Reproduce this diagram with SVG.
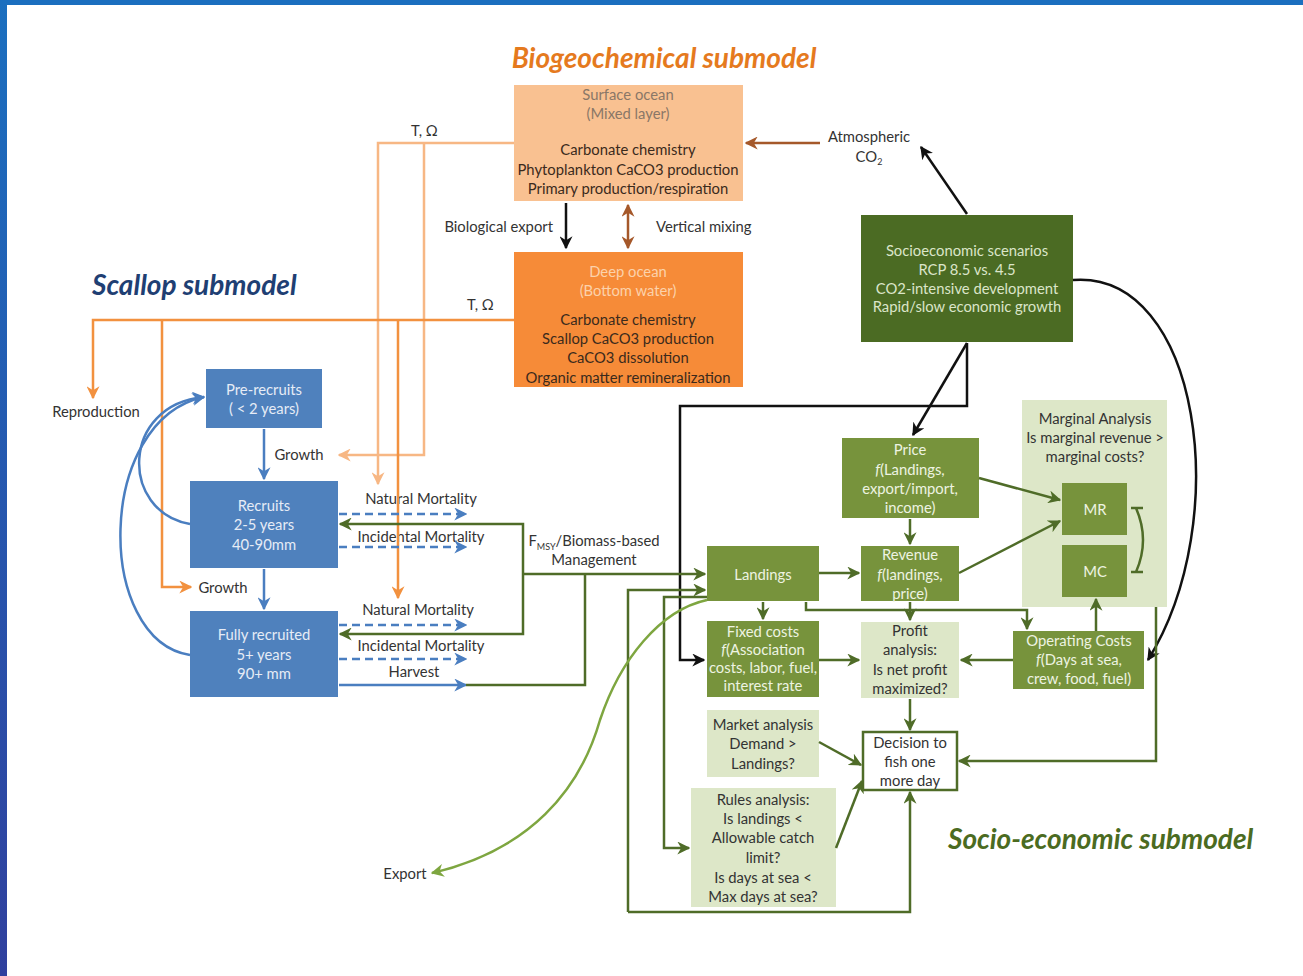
<svg xmlns="http://www.w3.org/2000/svg" width="1303" height="976" viewBox="0 0 1303 976">
<style>
text{font-family:Lato,"Liberation Sans",sans-serif;font-size:14.8px;}
.t{text-anchor:middle;}
.dk{fill:#333;}
.lt{fill:#e6ecf6;}
.lg{fill:#eef3e2;}
.brn{fill:#3b2a1c;}
.title{font-weight:bold;font-style:italic;font-size:28px;}
.c{fill:none;stroke-width:2.5;}
.blk{stroke:#111;}
.bro{stroke:#a5582a;}
.blu{stroke:#4a7ec0;}
.lor{stroke:#f7b784;}
.org{stroke:#f2913f;}
.grn{stroke:#4f6c28;}
.lgr{stroke:#7ea640;}
.dash{stroke-dasharray:8,5;}
</style>
<defs>
<linearGradient id="lb" x1="0" y1="0" x2="0" y2="1"><stop offset="0" stop-color="#1b6fbf"/><stop offset="1" stop-color="#30409e"/></linearGradient>
<marker id="aBlk" viewBox="0 0 10 10" refX="9" refY="5" markerWidth="13" markerHeight="13" markerUnits="userSpaceOnUse" orient="auto"><path d="M0,0 L10,5 L0,10 L3,5z" fill="#111"/></marker>
<marker id="aBro" viewBox="0 0 10 10" refX="9" refY="5" markerWidth="13" markerHeight="13" markerUnits="userSpaceOnUse" orient="auto-start-reverse"><path d="M0,0 L10,5 L0,10 L3,5z" fill="#a5582a"/></marker>
<marker id="aBlu" viewBox="0 0 10 10" refX="9" refY="5" markerWidth="13" markerHeight="13" markerUnits="userSpaceOnUse" orient="auto"><path d="M0,0 L10,5 L0,10 L3,5z" fill="#4a7ec0"/></marker>
<marker id="aLor" viewBox="0 0 10 10" refX="9" refY="5" markerWidth="13" markerHeight="13" markerUnits="userSpaceOnUse" orient="auto"><path d="M0,0 L10,5 L0,10 L3,5z" fill="#f7b784"/></marker>
<marker id="aOrg" viewBox="0 0 10 10" refX="9" refY="5" markerWidth="13" markerHeight="13" markerUnits="userSpaceOnUse" orient="auto"><path d="M0,0 L10,5 L0,10 L3,5z" fill="#f2913f"/></marker>
<marker id="aGrn" viewBox="0 0 10 10" refX="9" refY="5" markerWidth="13" markerHeight="13" markerUnits="userSpaceOnUse" orient="auto"><path d="M0,0 L10,5 L0,10 L3,5z" fill="#4f6c28"/></marker>
<marker id="aLgr" viewBox="0 0 10 10" refX="9" refY="5" markerWidth="13" markerHeight="13" markerUnits="userSpaceOnUse" orient="auto"><path d="M0,0 L10,5 L0,10 L3,5z" fill="#7ea640"/></marker>
</defs>
<rect x="0" y="0" width="1303" height="976" fill="#fff"/>
<rect x="0" y="0" width="1303" height="5" fill="#1b6fbf"/>
<rect x="0" y="0" width="7" height="976" fill="url(#lb)"/>

<text class="title t" x="664" y="68" fill="#e57a1e">Biogeochemical submodel</text>
<text class="title" x="92" y="295" fill="#1f3f73">Scallop submodel</text>
<text class="title" x="948" y="849" fill="#4b6b21">Socio-economic submodel</text>

<g id="surface-ocean">
<rect x="514" y="85" width="229" height="116" fill="#f9c191"/>
<text class="t" x="628" y="100" fill="#8a7767">Surface ocean</text>
<text class="t" x="628" y="119" fill="#8a7767">(Mixed layer)</text>
<text class="t brn" x="628" y="155">Carbonate chemistry</text>
<text class="t brn" x="628" y="175">Phytoplankton CaCO3 production</text>
<text class="t brn" x="628" y="194">Primary production/respiration</text>
</g>
<g id="deep-ocean">
<rect x="514" y="252" width="229" height="135" fill="#f68b38"/>
<text class="t" x="628" y="277" fill="#fcd2ab">Deep ocean</text>
<text class="t" x="628" y="296" fill="#fcd2ab">(Bottom water)</text>
<text class="t brn" x="628" y="325">Carbonate chemistry</text>
<text class="t brn" x="628" y="344">Scallop CaCO3 production</text>
<text class="t brn" x="628" y="363">CaCO3 dissolution</text>
<text class="t brn" x="628" y="383">Organic matter remineralization</text>
</g>
<g id="labels-bgc">
<text x="553" y="232" class="dk" text-anchor="end">Biological export</text>
<text x="656" y="232" class="dk">Vertical mixing</text>
<text x="411" y="136" class="dk">T, Ω</text>
<text x="467" y="310" class="dk">T, Ω</text>
<text x="869" y="142" class="dk t">Atmospheric</text>
<text x="869" y="162" class="dk t">CO<tspan font-size="9" dy="3">2</tspan></text>
</g>
<g id="socioeconomic-scenarios">
<rect x="861" y="215" width="212" height="127" fill="#4b6b23"/>
<text class="t" x="967" y="256" fill="#dbe5c9">Socioeconomic scenarios</text>
<text class="t" x="967" y="275" fill="#dbe5c9">RCP 8.5 vs. 4.5</text>
<text class="t" x="967" y="294" fill="#dbe5c9">CO2-intensive development</text>
<text class="t" x="967" y="312" fill="#dbe5c9">Rapid/slow economic growth</text>
</g>

<g id="pre-recruits">
<rect x="206" y="369" width="116" height="59" fill="#4f81bd"/>
<text class="t lt" x="264" y="395">Pre-recruits</text>
<text class="t lt" x="264" y="414">( &lt; 2 years)</text>
</g>
<g id="recruits">
<rect x="190" y="481" width="148" height="87" fill="#4f81bd"/>
<text class="t lt" x="264" y="511">Recruits</text>
<text class="t lt" x="264" y="530">2-5 years</text>
<text class="t lt" x="264" y="550">40-90mm</text>
</g>
<g id="fully-recruited">
<rect x="190" y="611" width="148" height="86" fill="#4f81bd"/>
<text class="t lt" x="264" y="640">Fully recruited</text>
<text class="t lt" x="264" y="660">5+ years</text>
<text class="t lt" x="264" y="679">90+ mm</text>
</g>
<g id="labels-scallop">
<text x="96" y="417" class="dk t">Reproduction</text>
<text x="299" y="460" class="dk t">Growth</text>
<text x="223" y="593" class="dk t">Growth</text>
<text x="421" y="504" class="dk t">Natural Mortality</text>
<text x="421" y="542" class="dk t">Incidental Mortality</text>
<text x="418" y="615" class="dk t">Natural Mortality</text>
<text x="421" y="651" class="dk t">Incidental Mortality</text>
<text x="414" y="677" class="dk t">Harvest</text>
<text x="594" y="546" class="dk t">F<tspan font-size="9" dy="4">MSY</tspan><tspan dy="-4">/Biomass-based</tspan></text>
<text x="594" y="565" class="dk t">Management</text>
<text x="405" y="879" class="dk t">Export</text>
</g>

<g id="marginal-analysis">
<rect x="1022" y="400" width="145" height="207" fill="#dde7c8"/>
<text class="t dk" x="1095" y="424">Marginal Analysis</text>
<text class="t dk" x="1095" y="443">Is marginal revenue &gt;</text>
<text class="t dk" x="1095" y="462">marginal costs?</text>
</g>
<g id="price">
<rect x="842" y="438" width="137" height="80" fill="#77933c"/>
<text class="t lg" x="910" y="455">Price</text>
<text class="t lg" x="910" y="475"><tspan font-style="italic">f</tspan>(Landings,</text>
<text class="t lg" x="910" y="494">export/import,</text>
<text class="t lg" x="910" y="513">income)</text>
</g>
<g id="revenue">
<rect x="861" y="546" width="98" height="55" fill="#77933c"/>
<text class="t lg" x="910" y="560">Revenue</text>
<text class="t lg" x="910" y="580"><tspan font-style="italic">f</tspan>(landings,</text>
<text class="t lg" x="910" y="599">price)</text>
</g>
<g id="landings">
<rect x="707" y="546" width="112" height="55" fill="#77933c"/>
<text class="t lg" x="763" y="580">Landings</text>
</g>
<g id="fixed-costs">
<rect x="707" y="621" width="112" height="76" fill="#77933c"/>
<text class="t lg" x="763" y="637">Fixed costs</text>
<text class="t lg" x="763" y="655"><tspan font-style="italic">f</tspan>(Association</text>
<text class="t lg" x="763" y="673">costs, labor, fuel,</text>
<text class="t lg" x="763" y="691">interest rate</text>
</g>
<g id="profit-analysis">
<rect x="861" y="622" width="98" height="76" fill="#dde7c8"/>
<text class="t dk" x="910" y="636">Profit</text>
<text class="t dk" x="910" y="655">analysis:</text>
<text class="t dk" x="910" y="675">Is net profit</text>
<text class="t dk" x="910" y="694">maximized?</text>
</g>
<g id="operating-costs">
<rect x="1013" y="631" width="131" height="58" fill="#77933c"/>
<text class="t lg" x="1079" y="646">Operating Costs</text>
<text class="t lg" x="1079" y="665"><tspan font-style="italic">f</tspan>(Days at sea,</text>
<text class="t lg" x="1079" y="684">crew, food, fuel)</text>
</g>
<g id="mr">
<rect x="1062" y="483" width="65" height="52" fill="#77933c"/>
<text class="t lg" x="1095" y="515">MR</text>
</g>
<g id="mc">
<rect x="1062" y="545" width="65" height="52" fill="#77933c"/>
<text class="t lg" x="1095" y="577">MC</text>
</g>
<g id="market-analysis">
<rect x="707" y="710" width="112" height="67" fill="#dde7c8"/>
<text class="t dk" x="763" y="730">Market analysis</text>
<text class="t dk" x="763" y="749">Demand &gt;</text>
<text class="t dk" x="763" y="769">Landings?</text>
</g>
<g id="decision">
<rect x="863" y="732" width="94" height="58" fill="#fff" stroke="#4f6c28" stroke-width="2.5"/>
<text class="t dk" x="910" y="748">Decision to</text>
<text class="t dk" x="910" y="767">fish one</text>
<text class="t dk" x="910" y="786">more day</text>
</g>
<g id="rules-analysis">
<rect x="691" y="788" width="145" height="119" fill="#dde7c8"/>
<text class="t dk" x="763" y="805">Rules analysis:</text>
<text class="t dk" x="763" y="824">Is landings &lt;</text>
<text class="t dk" x="763" y="843">Allowable catch</text>
<text class="t dk" x="763" y="863">limit?</text>
<text class="t dk" x="763" y="883">Is days at sea &lt;</text>
<text class="t dk" x="763" y="902">Max days at sea?</text>
</g>

<g id="connectors">
<path class="c blk" d="M566,203 V248" marker-end="url(#aBlk)"/>
<path class="c bro" d="M628,205 V248" marker-start="url(#aBro)" marker-end="url(#aBro)"/>
<path class="c bro" d="M820,143 H746" marker-end="url(#aBro)"/>
<path class="c blk" d="M967,214 L921,147" marker-end="url(#aBlk)"/>
<path class="c blk" d="M1073,280 C1200,270 1235,520 1148,660" marker-end="url(#aBlk)"/>
<path class="c blk" d="M967,343 L913,435" marker-end="url(#aBlk)"/>
<path class="c blk" d="M967,343 V406 H680 V660 H704" marker-end="url(#aBlk)"/>
<path class="c lor" d="M514,143 H378 V484" marker-end="url(#aLor)"/>
<path class="c lor" d="M424,143 V455 H339" marker-end="url(#aLor)"/>
<path class="c org" d="M514,320 H93 V398" marker-end="url(#aOrg)"/>
<path class="c org" d="M162,320 V587 H191" marker-end="url(#aOrg)"/>
<path class="c org" d="M398,320 V598" marker-end="url(#aOrg)"/>
<path class="c blu" d="M264,429 V479" marker-end="url(#aBlu)"/>
<path class="c blu" d="M264,569 V609" marker-end="url(#aBlu)"/>
<path class="c blu" d="M190,524 C120,512 120,405 204,397" marker-end="url(#aBlu)"/>
<path class="c blu" d="M190,655 C95,640 95,420 204,397" marker-end="url(#aBlu)"/>
<path class="c blu dash" d="M339,514 H466" marker-end="url(#aBlu)"/>
<path class="c blu dash" d="M339,547 H466" marker-end="url(#aBlu)"/>
<path class="c blu dash" d="M339,625 H466" marker-end="url(#aBlu)"/>
<path class="c blu dash" d="M339,659 H466" marker-end="url(#aBlu)"/>
<path class="c blu" d="M339,685 H466" marker-end="url(#aBlu)"/>
<path class="c grn" d="M523,574 V524 H340" marker-end="url(#aGrn)"/>
<path class="c grn" d="M523,574 V634 H340" marker-end="url(#aGrn)"/>
<path class="c grn" d="M466,685 H585 V574"/>
<path class="c grn" d="M523,574 H705" marker-end="url(#aGrn)"/>
<path class="c grn" d="M628,912 V590 H705" marker-end="url(#aGrn)"/>
<path class="c grn" d="M707,597 H664 V848 H689" marker-end="url(#aGrn)"/>
<path class="c grn" d="M628,912 H910 V792" marker-end="url(#aGrn)"/>
<path class="c lgr" d="M707,600 C660,610 620,660 600,720 C580,790 530,850 432,873" marker-end="url(#aLgr)"/>
<path class="c grn" d="M910,519 V544" marker-end="url(#aGrn)"/>
<path class="c grn" d="M979,478 L1060,500" marker-end="url(#aGrn)"/>
<path class="c grn" d="M959,573 L1060,521" marker-end="url(#aGrn)"/>
<path class="c grn" d="M819,573 H859" marker-end="url(#aGrn)"/>
<path class="c grn" d="M763,602 V619" marker-end="url(#aGrn)"/>
<path class="c grn" d="M806,602 V610 H1027 V629" marker-end="url(#aGrn)"/>
<path class="c grn" d="M910,602 V620" marker-end="url(#aGrn)"/>
<path class="c grn" d="M819,660 H859" marker-end="url(#aGrn)"/>
<path class="c grn" d="M1013,660 H961" marker-end="url(#aGrn)"/>
<path class="c grn" d="M1096,631 V599" marker-end="url(#aGrn)"/>
<path class="c grn" d="M910,699 V730" marker-end="url(#aGrn)"/>
<path class="c grn" d="M819,742 L861,765" marker-end="url(#aGrn)"/>
<path class="c grn" d="M836,848 L862,781" marker-end="url(#aGrn)"/>
<path class="c grn" d="M1156,607 V761 H959" marker-end="url(#aGrn)"/>
<path class="c grn" d="M1131,508 H1143 M1136,508 Q1150,540 1136,572 M1131,572 H1143"/>
</g>
</svg>
